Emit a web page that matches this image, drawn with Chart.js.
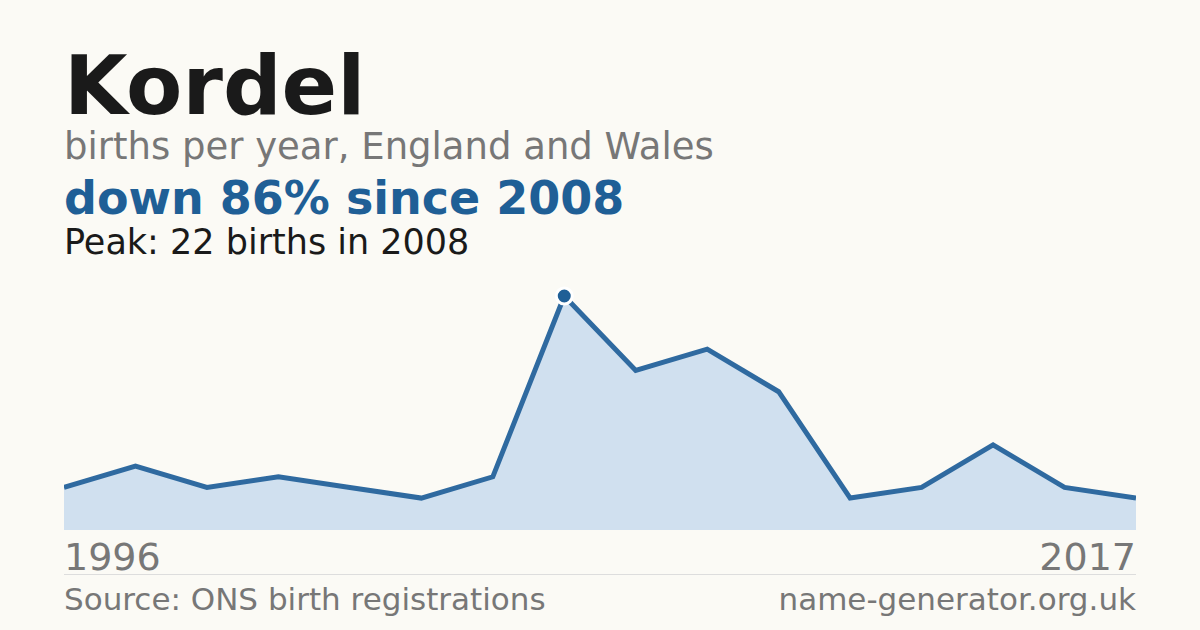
<!DOCTYPE html>
<html><head><meta charset="utf-8">
<script src="https://cdn.jsdelivr.net/npm/chart.js@4/dist/chart.umd.min.js"></script>
<style>
body{margin:0;width:1200px;height:630px;background:#fbfaf5;font-family:"DejaVu Sans",sans-serif;position:relative;overflow:hidden}
.t{position:absolute;left:64px;white-space:nowrap}
#c{position:absolute;left:64px;top:286px}
</style></head><body>
<div class="t" style="top:38px;font-size:82px;font-weight:bold;color:#1a1a1a">Kordel</div>
<div class="t" style="top:125px;font-size:37px;color:#777">births per year, England and Wales</div>
<div class="t" style="top:171px;font-size:46px;font-weight:bold;color:#1f5f96">down 86% since 2008</div>
<div class="t" style="top:222px;font-size:35px;color:#1a1a1a">Peak: 22 births in 2008</div>
<div class="t" style="top:535px;font-size:38px;color:#777">1996</div>
<div class="t" style="top:535px;left:auto;right:64px;font-size:38px;color:#777">2017</div>
<div style="position:absolute;left:64px;right:64px;top:574px;border-top:1px solid #ddd"></div>
<div class="t" style="top:581px;font-size:31px;color:#777">Source: ONS birth registrations</div>
<div class="t" style="top:581px;left:auto;right:64px;font-size:31px;color:#777">name-generator.org.uk</div>
<canvas id="c" width="1072" height="244"></canvas>
<script>
const years=[1996,1997,1998,2000,2002,2004,2007,2008,2009,2010,2011,2012,2013,2014,2016,2017];
const births=[4,6,4,5,4,3,5,22,15,17,13,3,4,8,4,3];
const peakIdx=births.indexOf(Math.max(...births));
new Chart(document.getElementById('c'),{type:'line',
data:{labels:years,datasets:[{data:births,borderColor:'#2f6aa0',borderWidth:5,backgroundColor:'#d0e0ef',fill:'origin',tension:0,
pointRadius:births.map((v,i)=>i===peakIdx?8:0),pointBackgroundColor:'#1f5f96',pointBorderColor:'#fff',pointBorderWidth:3}]},
options:{responsive:false,animation:false,layout:{padding:{top:10}},
plugins:{legend:{display:false},tooltip:{enabled:false}},
scales:{x:{display:false,offset:false},y:{display:false,min:0,max:22}},
elements:{point:{}},clip:false}});
</script>
</body></html>
